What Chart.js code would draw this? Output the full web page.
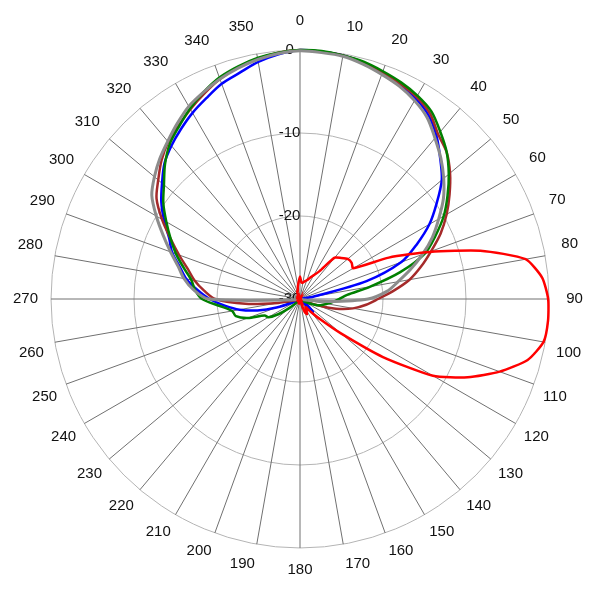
<!DOCTYPE html>
<html>
<head>
<meta charset="utf-8">
<script src="https://cdn.jsdelivr.net/npm/chart.js@4.4.1/dist/chart.umd.min.js"></script>
<style>
html,body{margin:0;padding:0;background:#fff;}
#c{display:block;}
</style>
</head>
<body>
<canvas id="c" width="600" height="600"></canvas>
<script>
// Angles (degrees, clockwise from top) at 5-degree steps
const angles = [0,5,10,15,20,25,30,35,40,45,50,55,60,65,70,75,80,85,90,95,100,105,110,115,120,125,130,135,140,145,150,155,160,165,170,175,
  180,185,190,195,200,205,210,215,220,225,230,235,240,245,250,255,260,265,270,275,280,285,290,295,300,305,310,315,320,325,330,335,340,345,350,355];

// Radial tick labels (dB)
const radialTickLabels = ['-30','-20','-10','0'];

// Series values (dB), one per angle
const redSeries = [-27.3,-28,-28,-27.8,-27.6,-27.2,-26.7,-25.9,-23.5,-23.0,-22.5,-22.4,-22.6,-18.2,-13.4,-7.5,-2.4,-0.7,
  -0.1,0,-0.2,-1.6,-4.4,-7.7,-11.5,-17.8,-23.5,-26.5,-28,-28.8,-28.5,-28,-28.3,-29.5,-30,-30,
  -30,-29.5,-30,-29.3,-30,-30,-29.6,-30,-30,-30,-29.5,-30,-30,-30,-30,-30,-30,-30,
  -30,-30,-30,-29.5,-30,-30,-30,-30,-30,-30,-29.4,-30,-30,-29.5,-29,-29,-28.5,-28];

const blueSeries = [0,-0.1,-0.2,-0.5,-1.0,-1.5,-2.1,-3.0,-4.4,-6.1,-7.7,-9.9,-12.0,-14.5,-17.0,-21.7,-28.3,-30,
  -30,-30,-30,-30,-30,-30,-30,-30,-28.8,-27.8,-29.5,-30,-30,-30,-30,-30,-30,-30,
  -30,-30,-30,-30,-30,-30,-30,-30,-30,-30,-30,-30,-30,-29,-27,-24.7,-22.6,-20.9,
  -19.1,-17.6,-16.1,-15.0,-13.6,-12.6,-11.1,-9.6,-8.3,-6.9,-5.9,-5.0,-4.1,-3.3,-2.4,-1.8,-1.0,-0.4];

const brownSeries = [0,-0.1,-0.2,-0.5,-1.0,-1.4,-1.9,-2.7,-4.1,-5.0,-6.4,-8.0,-9.6,-11.3,-13.2,-14.9,-16.6,-18.7,
  -20.6,-22.0,-23.5,-25.5,-28,-29.5,-30,-30,-30,-30,-30,-30,-30,-30,-30,-30,-30,-30,
  -30,-30,-30,-30,-30,-30,-30,-30,-30,-30,-30,-30,-30,-30,-30,-29.3,-27.3,-23.4,
  -19.8,-18.4,-17.1,-16.0,-14.5,-12.8,-10.8,-8.9,-7.7,-6.4,-5.3,-4.5,-3.6,-2.7,-1.8,-1.1,-0.6,-0.2];

const greenSeries = [0,0,-0.2,-0.4,-0.8,-1.2,-1.7,-2.4,-3.7,-5.0,-6.6,-8.3,-10.0,-12.0,-14.0,-17.5,-21.4,-24.3,
  -25.3,-26.0,-26.7,-27.2,-27.8,-28.8,-29.5,-30,-30,-30,-30,-30,-30,-30,-30,-30,-30,-30,
  -30,-30,-30,-30,-30,-30,-30,-30,-29.8,-29.3,-28.3,-26.8,-25.6,-25.3,-23.3,-22.0,-21.7,-20.3,
  -18.2,-17.3,-16.7,-15.5,-14.1,-12.8,-11.4,-9.9,-8.6,-7.0,-5.6,-4.6,-3.5,-2.5,-1.6,-1.0,-0.5,-0.2];

const graySeries = [-0.1,-0.2,-0.3,-0.7,-1.2,-1.7,-2.4,-3.3,-4.7,-6.0,-7.4,-8.9,-10.7,-12.4,-14.3,-16.2,-18.0,-19.5,
  -21.8,-26.5,-29.3,-30,-30,-30,-30,-30,-30,-30,-30,-30,-30,-30,-30,-30,-30,-30,
  -30,-30,-30,-30,-30,-30,-30,-30,-30,-30,-30,-30,-30,-30,-30,-30,-30,-28.5,
  -19.0,-17.1,-15.8,-14.8,-13.4,-11.8,-10.0,-8.2,-7.1,-6.1,-5.2,-4.2,-3.2,-2.5,-1.8,-1.2,-0.7,-0.3];

const FONT = "'Liberation Sans', Arial, sans-serif";

// padding so that label centres sit on a ring around the plot
function labelPadding(ctx) {
  const a = (Number(ctx.label) || 0) * Math.PI / 180;
  const txt = String(ctx.label);
  const halfW = txt.length * 8.34 / 2;
  const half = halfW * Math.abs(Math.sin(a)) + 9 * Math.abs(Math.cos(a));
  return Math.max(2, 18 - half + 3.5 * Math.cos(a));
}

new Chart(document.getElementById('c'), {
  type: 'radar',
  data: {
    labels: angles,
    datasets: [
      { data: redSeries, borderColor: '#ff0000', borderWidth: 2.5, tension: 0.2 },
      { data: graySeries, borderColor: '#8c8c8c', borderWidth: 3, tension: 0.3 },
      { data: greenSeries, borderColor: '#008000', borderWidth: 2.5, tension: 0.3 },
      { data: brownSeries, borderColor: '#a52a2a', borderWidth: 2.5, tension: 0.3 },
      { data: blueSeries, borderColor: '#0000ff', borderWidth: 2.5, tension: 0.3 }
    ]
  },
  options: {
    responsive: false,
    animation: false,
    layout: { padding: { left: 11, right: 15, top: 0, bottom: 2 } },
    plugins: { legend: { display: false }, tooltip: { enabled: false } },
    elements: { point: { radius: 0 }, line: { fill: false } },
    scales: {
      r: {
        min: -30,
        max: 0,
        ticks: {
          stepSize: 10,
          showLabelBackdrop: false,
          backdropPadding: 0,
          color: '#111',
          font: { size: 15, family: FONT },
          callback: (v, i) => radialTickLabels[i] + '     '
        },
        grid: { circular: true, color: '#b4b4b4', lineWidth: 1 },
        angleLines: {
          color: '#707070',
          lineWidth: (ctx) => (ctx.index % 2 === 0 ? 1 : 0)
        },
        pointLabels: {
          color: '#111',
          font: { size: 15, family: FONT },
          padding: labelPadding,
          callback: (label) => (label % 10 === 0 ? String(label) : '')
        }
      }
    }
  }
});
</script>
</body>
</html>
